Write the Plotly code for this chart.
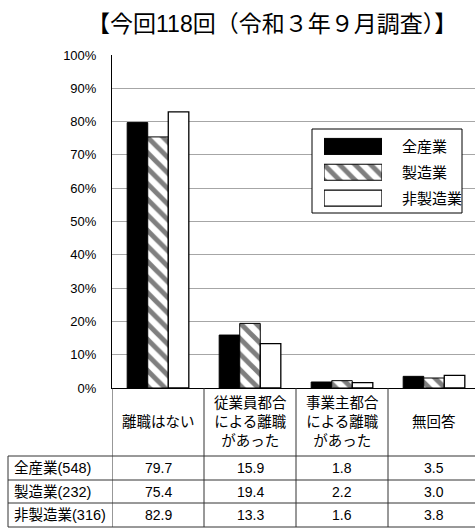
import plotly.graph_objects as go

# --- data -------------------------------------------------------------
categories = ["離職はない", "従業員都合<br>による離職<br>があった",
              "事業主都合<br>による離職<br>があった", "無回答"]
series_names = ["全産業", "製造業", "非製造業"]
row_labels = ["全産業(548)", "製造業(232)", "非製造業(316)"]
all_industries = [79.7, 15.9, 1.8, 3.5]
manufacturing = [75.4, 19.4, 2.2, 3.0]
non_manufacturing = [82.9, 13.3, 1.6, 3.8]
y_ticks = [0, 10, 20, 30, 40, 50, 60, 70, 80, 90, 100]
title_text = "【今回118回（令和３年９月調査）】"

series_values = [all_industries, manufacturing, non_manufacturing]

# --- page geometry (pixels) -------------------------------------------
W, H = 475, 528
L, R, T, B = 112, 0, 55, 140
PW, PH = W - L - R, H - T - B
CAT_W = 92  # width of one category column in pixels
Y_MAX = 100


def px(x):
    return (x - L) / PW


def py(y):
    return (H - B - y) / PH


def dx(x):
    """pixel column -> category-axis units"""
    return (x - L) / CAT_W - 0.5


def dy(y):
    """pixel row -> value-axis units"""
    return (H - B - y) / PH * Y_MAX


FONT = "Liberation Sans, Arial, Noto Sans CJK JP, sans-serif"

markers = [
    dict(color="black", line=dict(color="black", width=1)),
    dict(color="white", line=dict(color="black", width=1),
         pattern=dict(shape="\\", fgcolor="black", bgcolor="white",
                      size=11, solidity=0.45)),
    dict(color="white", line=dict(color="black", width=1.3)),
]

x_idx = list(range(len(categories)))

fig = go.Figure()
for name, vals, mk in zip(series_names, series_values, markers):
    fig.add_trace(go.Bar(x=x_idx, y=vals, name=name, marker=mk,
                         showlegend=False, xaxis="x", yaxis="y"))

# legend swatches on a small inset axis
for i, (name, mk) in enumerate(zip(series_names, markers)):
    fig.add_trace(go.Bar(x=[1], y=[i], orientation="h", width=0.62,
                         marker=mk, showlegend=False, hoverinfo="skip",
                         xaxis="x2", yaxis="y2"))

shapes = []
annotations = []

# legend frame (white box covering the gridlines behind it)
shapes.append(dict(type="rect", xref="x", yref="y",
                   x0=dx(312), x1=dx(462), y0=dy(213), y1=dy(129),
                   line=dict(color="black", width=1), fillcolor="white",
                   layer="between"))
for i, name in enumerate(series_names):
    annotations.append(dict(xref="x2", yref="y2", x=1, y=i, xshift=18,
                            xanchor="left", yanchor="middle", text=name,
                            showarrow=False,
                            font=dict(size=15, color="black", family=FONT)))

# title
annotations.append(dict(xref="paper", yref="paper", x=px(272), y=py(24),
                        xanchor="center", yanchor="middle",
                        text=title_text, showarrow=False,
                        font=dict(size=23, color="black", family=FONT)))

# data table under the chart
LINE = dict(color="#333333", width=1)
row_tops = [456, 480, 503, 527]
for yy in row_tops:
    shapes.append(dict(type="line", xref="paper", yref="paper",
                       x0=px(8), x1=1, y0=py(yy), y1=py(yy), line=LINE))
shapes.append(dict(type="line", xref="paper", yref="paper",
                   x0=px(8), x1=px(8), y0=py(456), y1=py(527), line=LINE))
for k in range(len(categories)):
    shapes.append(dict(type="line", xref="x", yref="paper",
                       x0=k - 0.5, x1=k - 0.5, y0=0, y1=py(527), line=LINE))

for k, cat in enumerate(categories):
    annotations.append(dict(xref="x", yref="paper", x=k, y=py(422),
                            xanchor="center", yanchor="middle",
                            text=cat, showarrow=False,
                            font=dict(size=14.5, color="black", family=FONT)))

for r, (lab, vals) in enumerate(zip(row_labels, series_values)):
    yc = py((row_tops[r] + row_tops[r + 1]) / 2)
    annotations.append(dict(xref="paper", yref="paper", x=px(12), y=yc,
                            xanchor="left", yanchor="middle",
                            text=lab, showarrow=False,
                            font=dict(size=14.5, color="black", family=FONT)))
    for k, v in enumerate(vals):
        annotations.append(dict(xref="x", yref="paper", x=k, y=yc,
                                xanchor="center", yanchor="middle",
                                text=f"{v:.1f}", showarrow=False,
                                font=dict(size=14, color="black", family=FONT)))

fig.update_layout(
    width=W, height=H,
    margin=dict(l=L, r=R, t=T, b=B, pad=0),
    paper_bgcolor="white", plot_bgcolor="white",
    barmode="group", bargap=0.33, bargroupgap=0,
    showlegend=False,
    font=dict(family=FONT, color="black"),
    xaxis=dict(domain=[0, 1], range=[-0.5, -0.5 + PW / CAT_W],
               showticklabels=False, showgrid=False, zeroline=False,
               showline=True, linecolor="black", linewidth=1, ticks=""),
    yaxis=dict(domain=[0, 1], range=[0, Y_MAX], tickvals=y_ticks,
               ticktext=[f"{v}%" for v in y_ticks],
               tickfont=dict(size=13, color="black", family=FONT),
               showgrid=True, gridcolor="#a6a6a6", gridwidth=1,
               zeroline=False, showline=True, linecolor="black",
               linewidth=1, ticks="", ticklabelstandoff=12),
    xaxis2=dict(domain=[px(324), px(382)], range=[0, 1], anchor="y2",
                visible=False, fixedrange=True),
    yaxis2=dict(domain=[py(211), py(133.5)], range=[2.5, -0.5],
                anchor="x2", visible=False, fixedrange=True),
    shapes=shapes,
    annotations=annotations,
)

fig.write_html("out.html")
